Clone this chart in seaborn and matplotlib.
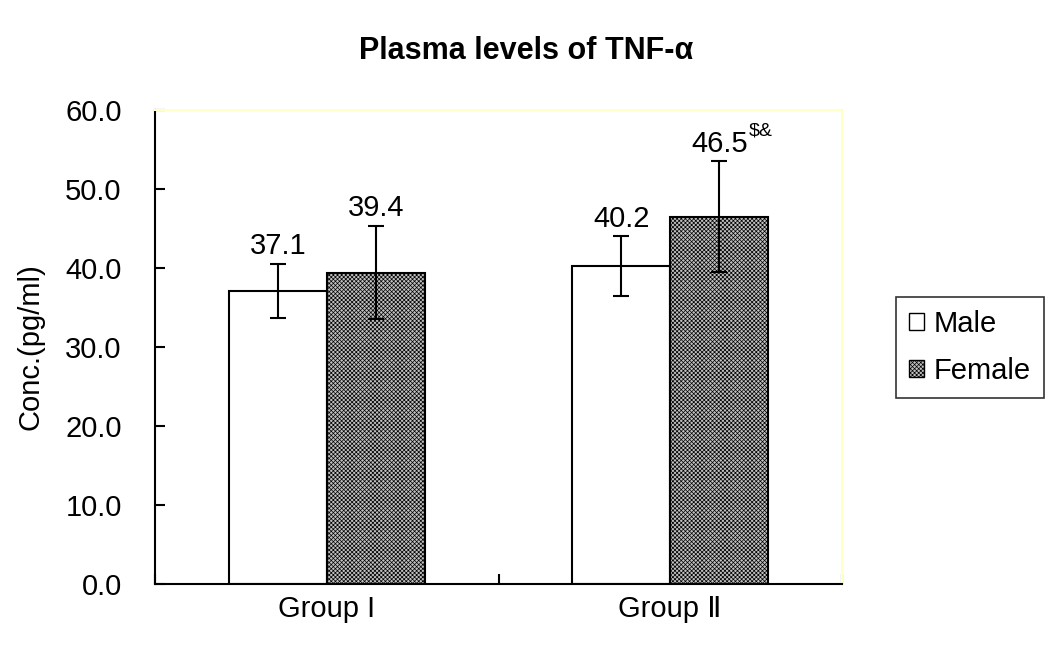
import matplotlib
matplotlib.use("Agg")
import matplotlib.pyplot as plt
import seaborn as sns
import pandas as pd
import numpy as np
from matplotlib.ticker import FixedLocator, FormatStrFormatter

# Plasma TNF-alpha concentrations (pg/ml): means and standard deviations
groups = ["Group I", "Group Ⅱ"]
sexes = ["Male", "Female"]
male_mean = [37.1, 40.2]
female_mean = [39.4, 46.5]
male_sd = [3.4, 3.8]
female_sd = [5.9, 7.0]
value_labels = ["37.1", "40.2", "39.4", "46.5"]
female_ii_note = "$&"
y_ticks = [0, 10, 20, 30, 40, 50, 60]

df = pd.DataFrame({
    "Group": groups * 2,
    "Sex": ["Male"] * 2 + ["Female"] * 2,
    "Conc": male_mean + female_mean,
    "SD": male_sd + female_sd,
    "Label": value_labels,
})

sns.set_theme(style="white")
plt.rcParams["font.family"] = ["Liberation Sans", "DejaVu Sans"]
plt.rcParams["hatch.linewidth"] = 0.5
for key in ["text.color", "axes.labelcolor", "xtick.color", "ytick.color"]:
    plt.rcParams[key] = "black"

fig = plt.figure(figsize=(10.52, 6.5), dpi=100)
ax = fig.add_axes([155 / 1052, 1 - 584 / 650, (842 - 155) / 1052, (584 - 110) / 650])

palette = {"Male": "#ffffff", "Female": "#c0c0c0"}
sns.barplot(data=df, x="Group", y="Conc", hue="Sex", order=groups, hue_order=sexes,
            palette=palette, width=0.57, errorbar=None, edgecolor="black",
            linewidth=1.5, saturation=1, ax=ax, legend=True)

FEMALE_HATCH = "xxxxxxxx"

# Shade the female bars with a fine stipple pattern
for bar_container, sex in zip(ax.containers, sexes):
    for patch in bar_container:
        if sex == "Female":
            patch.set_hatch(FEMALE_HATCH)

# Error bars and value labels placed at each bar's centre
for bar_container, sex in zip(ax.containers, sexes):
    sub = df[df["Sex"] == sex].set_index("Group").loc[groups]
    for patch, (grp, row) in zip(bar_container, sub.iterrows()):
        xc = patch.get_x() + patch.get_width() / 2
        ax.errorbar(xc, row["Conc"], yerr=row["SD"], color="black", lw=1.5,
                    capsize=5.8, capthick=1.5, zorder=5)
        txt = ax.annotate(row["Label"], xy=(xc, row["Conc"] + row["SD"]),
                          xytext=(0, 7), textcoords="offset points",
                          ha="center", va="baseline", fontsize=21, zorder=6)
        if sex == "Female" and grp == groups[1]:
            ax.annotate(female_ii_note, xy=(1, 1), xycoords=txt,
                        xytext=(1, -7), textcoords="offset points",
                        ha="left", va="bottom", fontsize=14)

ax.set_xlim(-0.5, 1.5)
ax.set_ylim(0, 60)
ax.yaxis.set_major_locator(FixedLocator(y_ticks))
ax.yaxis.set_major_formatter(FormatStrFormatter("%.1f"))
ax.tick_params(axis="y", direction="in", length=7, width=1.5, pad=24,
               labelsize=21, left=True)
ax.tick_params(axis="x", which="major", length=0, pad=8, labelsize=21)
ax.xaxis.set_minor_locator(FixedLocator([-0.5, 0.5, 1.5]))
ax.tick_params(axis="x", which="minor", direction="in", length=7, width=1.5,
               bottom=True)

ax.set_xlabel("")
ax.set_ylabel("Conc.(pg/ml)", fontsize=21, labelpad=15)

for side in ["left", "bottom"]:
    ax.spines[side].set_color("black")
    ax.spines[side].set_linewidth(1.5)
for side in ["top", "right"]:
    ax.spines[side].set_color("#ffffc8")
    ax.spines[side].set_linewidth(1.5)

fig.suptitle("Plasma levels of TNF-α", x=526 / 1052, y=1 - 51 / 650,
             va="center", fontsize=22, fontweight="bold")

leg = ax.legend(loc="upper left", bbox_to_anchor=(896 / 1052, 1 - 297 / 650),
                bbox_transform=fig.transFigure, borderaxespad=0, fontsize=21,
                handlelength=0.5, handleheight=0.5, handletextpad=0.35,
                labelspacing=0.65, borderpad=0.45, frameon=True, fancybox=False)
leg.get_frame().set_edgecolor("black")
leg.get_frame().set_linewidth(1.2)
for h in leg.legend_handles:
    h.set_edgecolor("black")
    h.set_linewidth(1.0)
leg.legend_handles[1].set_hatch(FEMALE_HATCH)

fig.savefig("out.png", dpi=100, facecolor="white")
